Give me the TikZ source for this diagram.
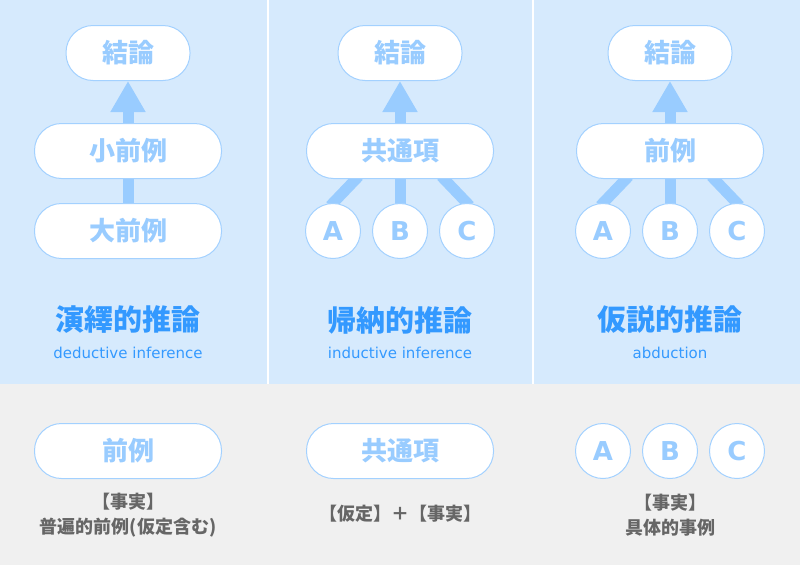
\documentclass[tikz,border=0pt]{standalone}
\usepackage{fontspec}
\setmainfont{Noto Sans CJK JP}
\newfontfamily\lat{DejaVu Sans}
\usetikzlibrary{positioning,arrows.meta}
\definecolor{panelblue}{HTML}{D6EAFD}
\definecolor{panelgray}{HTML}{F0F0F0}
\definecolor{nodeblue}{HTML}{99CCFF}
\definecolor{lineblue}{HTML}{A3D1FF}
\definecolor{titleblue}{HTML}{3399FF}
\definecolor{notegray}{HTML}{666666}
\pgfdeclarelayer{panel}
\pgfdeclarelayer{link}
\pgfsetlayers{panel,link,main}

\begin{document}
\begin{tikzpicture}[x=1pt, y=-1pt,
  pill/.style={draw=lineblue, fill=white, line width=1pt, rounded corners=27pt, minimum width=124pt, minimum height=55pt, text=nodeblue, font=\fontsize{26}{26}\selectfont\bfseries},
  wide/.style={minimum width=187pt},
  ball/.style={draw=lineblue, fill=white, line width=1pt, circle, minimum size=55pt, inner sep=0pt, text=nodeblue, font=\lat\fontsize{26}{26}\selectfont\bfseries},
  link/.style={draw=nodeblue, line width=11pt, shorten <=-4pt, shorten >=-4pt},
  up/.style={nodeblue, line width=11pt, -{Triangle[width=33pt,length=31pt]}},
  title/.style={text=titleblue, font=\fontsize{29}{29}\selectfont\bfseries},
  sub/.style={text=titleblue, font=\lat\fontsize{15}{15}\selectfont},
  note/.style={text=notegray, align=center, font=\fontsize{18}{25}\selectfont\bfseries}]
\useasboundingbox (0,0) rectangle (800,565);

% panels
\begin{pgfonlayer}{panel}
\fill[panelblue] (0,0) rectangle (800,384);
\fill[panelgray] (0,384) rectangle (800,565);
\draw[white, line width=2pt] (268,0) -- (268,384);
\draw[white, line width=2pt] (533,0) -- (533,384);
\end{pgfonlayer}

% deductive
\node[pill] (D1) at (128,53) {結論};
\node[pill, wide, below = 42pt of D1] (D2) {小前例};
\node[pill, wide, below = 24pt of D2] (D3) {大前例};
\node[title] (Dt) at (128,320) {演繹的推論};
\node[sub] (Ds) at (128,353) {deductive inference};

% inductive
\node[pill] (I1) at (400,53) {結論};
\node[pill, wide, below = 42pt of I1] (I2) {共通項};
\node[ball, below = 24pt of I2] (Ib) {B};
\node[ball, left = 11pt of Ib] (Ia) {A};
\node[ball, right = 11pt of Ib] (Ic) {C};
\node[title] (It) at (400,320) {帰納的推論};
\node[sub] (Is) at (400,353) {inductive inference};

% abduction
\node[pill] (H1) at (670,53) {結論};
\node[pill, wide, below = 42pt of H1] (H2) {前例};
\node[ball, below = 24pt of H2] (Hb) {B};
\node[ball, left = 11pt of Hb] (Ha) {A};
\node[ball, right = 11pt of Hb] (Hc) {C};
\node[title] (Ht) at (670,320) {仮説的推論};
\node[sub] (Hs) at (670,353) {abduction};

% arrows
\draw[up] (D2.north) -- (D1.south);
\draw[up] (I2.north) -- (I1.south);
\draw[up] (H2.north) -- (H1.south);
\begin{pgfonlayer}{link}
\draw[link] (D3) -- (D2);
\draw[link] (Ia.north) -- ([xshift=-44pt]I2.south);
\draw[link] (Ib) -- (I2);
\draw[link] (Ic.north) -- ([xshift=44pt]I2.south);
\draw[link] (Ha.north) -- ([xshift=-44pt]H2.south);
\draw[link] (Hb) -- (H2);
\draw[link] (Hc.north) -- ([xshift=44pt]H2.south);
\end{pgfonlayer}

% bottom row
\node[pill, wide] (D4) at (128,451) {前例};
\node[note] (Dn) at (128,515) {【事実】\\普遍的前例(仮定含む)};
\node[pill, wide] (I4) at (400,451) {共通項};
\node[note] (In) at (400,514) {【仮定】＋【事実】};
\node[ball] (Hb4) at (670,451) {B};
\node[ball, left = 11pt of Hb4] (Ha4) {A};
\node[ball, right = 11pt of Hb4] (Hc4) {C};
\node[note] (Hn) at (670,515) {【事実】\\具体的事例};
\end{tikzpicture}
\end{document}
